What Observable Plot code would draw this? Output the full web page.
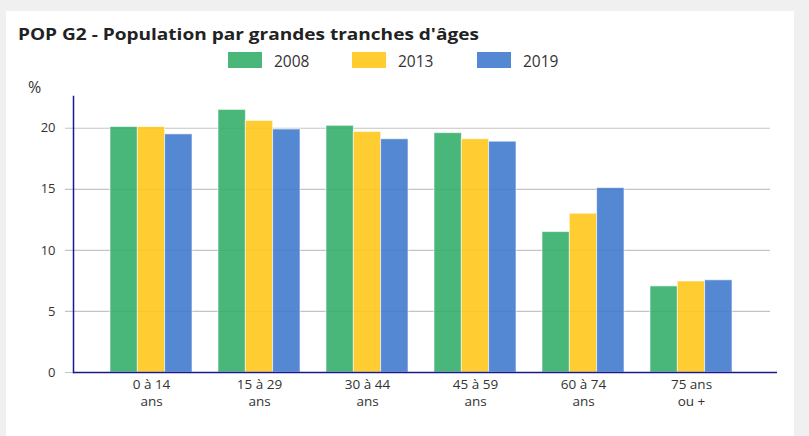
<!DOCTYPE html>
<html><head><meta charset="utf-8">
<script src="https://cdn.jsdelivr.net/npm/d3@7"></script>
<script src="https://cdn.jsdelivr.net/npm/@observablehq/plot@0.6"></script>
<style>
body{margin:0;background:#f0f0f0;font-family:"Open Sans",sans-serif;}
#wrap{position:relative;width:809px;height:436px;overflow:hidden;}
#card{position:absolute;left:6px;top:11px;width:788px;height:440px;background:#fff;}
#title{position:absolute;left:18px;top:23px;font-weight:bold;font-size:16px;color:#222;white-space:nowrap;transform-origin:0 50%;transform:scaleX(1.19);}
#legend{position:absolute;left:0;top:52px;width:809px;height:18px;}
.sw{position:absolute;width:34px;height:16px;top:0;}
.lt{position:absolute;top:-2px;font-size:15.5px;color:#333;}
#unit{position:absolute;left:28px;top:76px;font-size:16px;color:#333;}
#chart{position:absolute;left:0;top:0;}
</style></head>
<body><div id="wrap"><div id="card"></div><div id="title"></div><div id="legend"></div><div id="unit">%</div><div id="chart"></div></div>
<script>
const title = "POP G2 - Population par grandes tranches d'âges";
const categories = ["0 à 14\nans","15 à 29\nans","30 à 44\nans","45 à 59\nans","60 à 74\nans","75 ans\nou +"];
const years = ["2008","2013","2019"];
const v2008 = [20.1, 21.5, 20.2, 19.6, 11.5, 7.05];
const v2013 = [20.1, 20.6, 19.7, 19.1, 13.0, 7.45];
const v2019 = [19.5, 19.9, 19.1, 18.9, 15.1, 7.55];
const yTicks = [0, 5, 10, 15, 20];
const colors = ["#36af6b", "#ffc71c", "#427bce"];

document.getElementById("title").textContent = title;
const legend = document.getElementById("legend");
const legendX = [228, 352, 477];
years.forEach((y, i) => {
  const s = document.createElement("div"); s.className = "sw";
  s.style.left = legendX[i] + "px"; s.style.background = colors[i]; s.style.opacity = 0.9;
  legend.appendChild(s);
  const t = document.createElement("div"); t.className = "lt";
  t.style.left = (legendX[i] + 46) + "px"; t.textContent = y;
  legend.appendChild(t);
});

const series = [v2008, v2013, v2019];
const W = 809, mL = 73, mR = 32;
const pInner = 0.245, pOuter = 0.367;
const step = (W - mL - mR) / (categories.length - pInner + 2 * pOuter);
const bw = step * (1 - pInner);
const sub = bw / years.length;

const barMarks = series.map((vals, i) => Plot.barY(
  categories.map((c, j) => ({cat: c, v: vals[j]})),
  {x: "cat", y: "v", fill: colors[i], fillOpacity: 0.9, stroke: "white", strokeOpacity: 0.6, strokeWidth: 1,
   insetLeft: i * sub, insetRight: (years.length - 1 - i) * sub}
));

const labelStyle = {fontSize: 13.5, fill: "#333", frameAnchor: "bottom", lineAnchor: "top", style: {letterSpacing: "1.1px"}};

const chart = Plot.plot({
  width: W, height: 436,
  marginLeft: mL, marginRight: mR, marginTop: 96, marginBottom: 64,
  style: {background: "transparent", fontFamily: "Open Sans, sans-serif"},
  x: {domain: categories, paddingInner: pInner, paddingOuter: pOuter, align: 0.45, label: null, axis: null},
  y: {domain: [0, 22.6], label: null},
  marks: [
    Plot.ruleY(yTicks, {stroke: "#c4c4c4", strokeWidth: 1.2, insetLeft: -8, insetRight: 7}),
    ...barMarks,
    Plot.axisY({ticks: yTicks, tickSize: 0, tickPadding: 18, fontSize: 13, fill: "#333", label: null, style: {letterSpacing: "1px"}}),
    Plot.text(categories, {x: d => d, text: d => d.split("\n")[0], dy: 7, ...labelStyle}),
    Plot.text(categories, {x: d => d, text: d => d.split("\n")[1], dy: 24, ...labelStyle}),
    Plot.ruleY([0], {stroke: "#1a1a8f", strokeWidth: 1.5}),
    Plot.frame({anchor: "left", stroke: "#1a1a8f", strokeWidth: 1.5})
  ]
});
document.getElementById("chart").appendChild(chart);
</script></body></html>
